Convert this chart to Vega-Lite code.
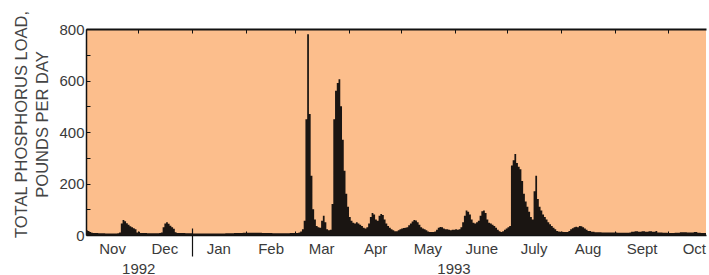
{
  "$schema": "https://vega.github.io/schema/vega-lite/v6.json",
  "width": 620,
  "height": 206,
  "autosize": {"type": "pad"},
  "padding": {"top": 10, "left": 13, "right": 0, "bottom": 0},
  "background": "white",
  "config": {
    "view": {"stroke": null, "fill": "#FCBE8C"},
    "axis": {
      "labelFont": "Liberation Sans",
      "titleFont": "Liberation Sans",
      "labelFontSize": 15,
      "labelColor": "#3a3a3a",
      "domainColor": "#111111",
      "tickColor": "#111111",
      "grid": false,
      "titleFontWeight": "normal"
    }
  },
  "data": {
    "values": [
      {"date": "1992-11-01", "load": 18}, {"date": "1992-11-02", "load": 16}, {"date": "1992-11-03", "load": 12}, {"date": "1992-11-04", "load": 9}, {"date": "1992-11-05", "load": 8}, {"date": "1992-11-08", "load": 7}, {"date": "1992-11-12", "load": 6}, {"date": "1992-11-16", "load": 6}, {"date": "1992-11-19", "load": 7}, {"date": "1992-11-20", "load": 10},
      {"date": "1992-11-21", "load": 45}, {"date": "1992-11-22", "load": 58}, {"date": "1992-11-23", "load": 53}, {"date": "1992-11-24", "load": 46}, {"date": "1992-11-25", "load": 40}, {"date": "1992-11-26", "load": 34}, {"date": "1992-11-27", "load": 30}, {"date": "1992-11-28", "load": 26}, {"date": "1992-11-29", "load": 22}, {"date": "1992-11-30", "load": 10},
      {"date": "1992-12-01", "load": 13}, {"date": "1992-12-02", "load": 8}, {"date": "1992-12-06", "load": 7}, {"date": "1992-12-10", "load": 7}, {"date": "1992-12-13", "load": 8}, {"date": "1992-12-14", "load": 10}, {"date": "1992-12-15", "load": 30}, {"date": "1992-12-16", "load": 45}, {"date": "1992-12-17", "load": 50}, {"date": "1992-12-18", "load": 44}, {"date": "1992-12-19", "load": 36}, {"date": "1992-12-20", "load": 30}, {"date": "1992-12-21", "load": 24}, {"date": "1992-12-22", "load": 11}, {"date": "1992-12-23", "load": 8}, {"date": "1992-12-28", "load": 7},
      {"date": "1993-01-01", "load": 6}, {"date": "1993-01-08", "load": 6}, {"date": "1993-01-15", "load": 6}, {"date": "1993-01-20", "load": 7}, {"date": "1993-01-25", "load": 8}, {"date": "1993-01-30", "load": 9},
      {"date": "1993-02-04", "load": 9}, {"date": "1993-02-10", "load": 8}, {"date": "1993-02-16", "load": 7}, {"date": "1993-02-22", "load": 7}, {"date": "1993-02-26", "load": 8},
      {"date": "1993-03-01", "load": 8}, {"date": "1993-03-03", "load": 10}, {"date": "1993-03-04", "load": 14}, {"date": "1993-03-05", "load": 22}, {"date": "1993-03-06", "load": 55}, {"date": "1993-03-07", "load": 450}, {"date": "1993-03-08", "load": 780}, {"date": "1993-03-09", "load": 470}, {"date": "1993-03-10", "load": 230}, {"date": "1993-03-11", "load": 100}, {"date": "1993-03-12", "load": 60}, {"date": "1993-03-13", "load": 35}, {"date": "1993-03-14", "load": 30}, {"date": "1993-03-15", "load": 28}, {"date": "1993-03-16", "load": 55}, {"date": "1993-03-17", "load": 75}, {"date": "1993-03-18", "load": 50}, {"date": "1993-03-19", "load": 22}, {"date": "1993-03-20", "load": 18}, {"date": "1993-03-21", "load": 20}, {"date": "1993-03-22", "load": 120}, {"date": "1993-03-23", "load": 450}, {"date": "1993-03-24", "load": 560}, {"date": "1993-03-25", "load": 590}, {"date": "1993-03-26", "load": 605}, {"date": "1993-03-27", "load": 500}, {"date": "1993-03-28", "load": 370}, {"date": "1993-03-29", "load": 250}, {"date": "1993-03-30", "load": 160}, {"date": "1993-03-31", "load": 110},
      {"date": "1993-04-01", "load": 70}, {"date": "1993-04-02", "load": 55}, {"date": "1993-04-03", "load": 48}, {"date": "1993-04-04", "load": 45}, {"date": "1993-04-05", "load": 50}, {"date": "1993-04-06", "load": 45}, {"date": "1993-04-07", "load": 40}, {"date": "1993-04-08", "load": 35}, {"date": "1993-04-09", "load": 28}, {"date": "1993-04-10", "load": 25}, {"date": "1993-04-11", "load": 30}, {"date": "1993-04-12", "load": 45}, {"date": "1993-04-13", "load": 70}, {"date": "1993-04-14", "load": 85}, {"date": "1993-04-15", "load": 80}, {"date": "1993-04-16", "load": 60}, {"date": "1993-04-17", "load": 55}, {"date": "1993-04-18", "load": 75}, {"date": "1993-04-19", "load": 82}, {"date": "1993-04-20", "load": 78}, {"date": "1993-04-21", "load": 60}, {"date": "1993-04-22", "load": 45}, {"date": "1993-04-23", "load": 35}, {"date": "1993-04-24", "load": 28}, {"date": "1993-04-25", "load": 22}, {"date": "1993-04-26", "load": 18}, {"date": "1993-04-27", "load": 15}, {"date": "1993-04-28", "load": 15}, {"date": "1993-04-29", "load": 18}, {"date": "1993-04-30", "load": 22},
      {"date": "1993-05-01", "load": 25}, {"date": "1993-05-02", "load": 27}, {"date": "1993-05-03", "load": 28}, {"date": "1993-05-04", "load": 30}, {"date": "1993-05-05", "load": 38}, {"date": "1993-05-06", "load": 45}, {"date": "1993-05-07", "load": 52}, {"date": "1993-05-08", "load": 58}, {"date": "1993-05-09", "load": 56}, {"date": "1993-05-10", "load": 50}, {"date": "1993-05-11", "load": 40}, {"date": "1993-05-12", "load": 30}, {"date": "1993-05-13", "load": 25}, {"date": "1993-05-14", "load": 22}, {"date": "1993-05-15", "load": 18}, {"date": "1993-05-16", "load": 14}, {"date": "1993-05-17", "load": 12}, {"date": "1993-05-19", "load": 12}, {"date": "1993-05-20", "load": 14}, {"date": "1993-05-21", "load": 20}, {"date": "1993-05-22", "load": 28}, {"date": "1993-05-23", "load": 31}, {"date": "1993-05-24", "load": 30}, {"date": "1993-05-25", "load": 25}, {"date": "1993-05-26", "load": 22}, {"date": "1993-05-28", "load": 20}, {"date": "1993-05-29", "load": 18}, {"date": "1993-05-30", "load": 20},
      {"date": "1993-06-01", "load": 22}, {"date": "1993-06-02", "load": 20}, {"date": "1993-06-03", "load": 22}, {"date": "1993-06-04", "load": 30}, {"date": "1993-06-05", "load": 50}, {"date": "1993-06-06", "load": 75}, {"date": "1993-06-07", "load": 95}, {"date": "1993-06-08", "load": 90}, {"date": "1993-06-09", "load": 80}, {"date": "1993-06-10", "load": 60}, {"date": "1993-06-11", "load": 48}, {"date": "1993-06-12", "load": 45}, {"date": "1993-06-13", "load": 50}, {"date": "1993-06-14", "load": 55}, {"date": "1993-06-15", "load": 75}, {"date": "1993-06-16", "load": 92}, {"date": "1993-06-17", "load": 95}, {"date": "1993-06-18", "load": 85}, {"date": "1993-06-19", "load": 60}, {"date": "1993-06-20", "load": 48}, {"date": "1993-06-21", "load": 45}, {"date": "1993-06-22", "load": 40}, {"date": "1993-06-23", "load": 35}, {"date": "1993-06-24", "load": 28}, {"date": "1993-06-25", "load": 20}, {"date": "1993-06-26", "load": 15}, {"date": "1993-06-27", "load": 12}, {"date": "1993-06-28", "load": 15}, {"date": "1993-06-29", "load": 20}, {"date": "1993-06-30", "load": 25},
      {"date": "1993-07-01", "load": 30}, {"date": "1993-07-02", "load": 35}, {"date": "1993-07-03", "load": 270}, {"date": "1993-07-04", "load": 290}, {"date": "1993-07-05", "load": 315}, {"date": "1993-07-06", "load": 280}, {"date": "1993-07-07", "load": 265}, {"date": "1993-07-08", "load": 255}, {"date": "1993-07-09", "load": 210}, {"date": "1993-07-10", "load": 160}, {"date": "1993-07-11", "load": 130}, {"date": "1993-07-12", "load": 110}, {"date": "1993-07-13", "load": 90}, {"date": "1993-07-14", "load": 70}, {"date": "1993-07-15", "load": 60}, {"date": "1993-07-16", "load": 170}, {"date": "1993-07-17", "load": 230}, {"date": "1993-07-18", "load": 140}, {"date": "1993-07-19", "load": 110}, {"date": "1993-07-20", "load": 95}, {"date": "1993-07-21", "load": 80}, {"date": "1993-07-22", "load": 70}, {"date": "1993-07-23", "load": 60}, {"date": "1993-07-24", "load": 50}, {"date": "1993-07-25", "load": 42}, {"date": "1993-07-26", "load": 35}, {"date": "1993-07-27", "load": 28}, {"date": "1993-07-28", "load": 22}, {"date": "1993-07-29", "load": 16}, {"date": "1993-07-30", "load": 14}, {"date": "1993-07-31", "load": 13},
      {"date": "1993-08-02", "load": 12}, {"date": "1993-08-04", "load": 12}, {"date": "1993-08-05", "load": 16}, {"date": "1993-08-06", "load": 22}, {"date": "1993-08-07", "load": 26}, {"date": "1993-08-08", "load": 30}, {"date": "1993-08-09", "load": 32}, {"date": "1993-08-10", "load": 30}, {"date": "1993-08-11", "load": 35}, {"date": "1993-08-12", "load": 34}, {"date": "1993-08-13", "load": 30}, {"date": "1993-08-14", "load": 25}, {"date": "1993-08-15", "load": 20}, {"date": "1993-08-16", "load": 16}, {"date": "1993-08-18", "load": 13}, {"date": "1993-08-20", "load": 11}, {"date": "1993-08-24", "load": 10}, {"date": "1993-08-29", "load": 10},
      {"date": "1993-09-02", "load": 9}, {"date": "1993-09-06", "load": 9}, {"date": "1993-09-09", "load": 10}, {"date": "1993-09-10", "load": 13}, {"date": "1993-09-12", "load": 15}, {"date": "1993-09-14", "load": 13}, {"date": "1993-09-16", "load": 15}, {"date": "1993-09-18", "load": 13}, {"date": "1993-09-20", "load": 15}, {"date": "1993-09-22", "load": 13}, {"date": "1993-09-24", "load": 16}, {"date": "1993-09-25", "load": 10}, {"date": "1993-09-28", "load": 9},
      {"date": "1993-10-01", "load": 8}, {"date": "1993-10-05", "load": 9}, {"date": "1993-10-08", "load": 11}, {"date": "1993-10-12", "load": 10}, {"date": "1993-10-16", "load": 12}, {"date": "1993-10-18", "load": 9}, {"date": "1993-10-20", "load": 8}, {"date": "1993-10-23", "load": 8}
    ]
  },
  "layer": [
    {
      "mark": {"type": "area", "interpolate": "step-after", "color": "#1a1512", "clip": true},
      "encoding": {
        "x": {
          "field": "date", "type": "temporal",
          "scale": {"type": "utc", "domain": [{"year": 1992, "month": 11, "date": 1, "utc": true}, {"year": 1993, "month": 10, "date": 23, "utc": true}]},
          "axis": {
            "values": [
              {"year": 1992, "month": 11, "date": 16, "utc": true}, {"year": 1992, "month": 12, "date": 16, "utc": true},
              {"year": 1993, "month": 1, "date": 16, "utc": true}, {"year": 1993, "month": 2, "date": 15, "utc": true},
              {"year": 1993, "month": 3, "date": 16, "utc": true}, {"year": 1993, "month": 4, "date": 16, "utc": true},
              {"year": 1993, "month": 5, "date": 16, "utc": true}, {"year": 1993, "month": 6, "date": 16, "utc": true},
              {"year": 1993, "month": 7, "date": 16, "utc": true}, {"year": 1993, "month": 8, "date": 16, "utc": true},
              {"year": 1993, "month": 9, "date": 16, "utc": true}, {"year": 1993, "month": 10, "date": 16, "utc": true}
            ],
            "labelExpr": "['Jan','Feb','Mar','Apr','May','June','July','Aug','Sept','Oct','Nov','Dec'][utcmonth(datum.value)]",
            "tickSize": 0, "labelPadding": 6, "domainWidth": 1.5, "title": null,
            "labelFlush": false, "labelOverlap": false
          }
        },
        "y": {
          "field": "load", "type": "quantitative",
          "scale": {"domain": [0, 800]},
          "axis": {
            "values": [0, 100, 200, 300, 400, 500, 600, 700, 800],
            "labelExpr": "datum.value % 200 === 0 ? datum.label : ''",
            "tickSize": -4, "labelPadding": 6, "domainWidth": 1.5,
            "title": ["TOTAL PHOSPHORUS LOAD,", "POUNDS PER DAY"],
            "titleFontSize": 16.5, "titleColor": "#444444", "titlePadding": 8, "titleLineHeight": 21, "titleY": 95,
            "labelFlush": false, "format": "d"
          }
        }
      }
    },
    {
      "mark": {"type": "point", "opacity": 0},
      "encoding": {
        "x": {
          "field": "date", "type": "temporal", "scale": {"type": "utc"},
          "axis": {
            "orient": "bottom",
            "values": [
              {"year": 1992, "month": 12, "date": 1, "utc": true}, {"year": 1993, "month": 2, "date": 1, "utc": true},
              {"year": 1993, "month": 3, "date": 1, "utc": true}, {"year": 1993, "month": 4, "date": 1, "utc": true},
              {"year": 1993, "month": 5, "date": 1, "utc": true}, {"year": 1993, "month": 6, "date": 1, "utc": true},
              {"year": 1993, "month": 7, "date": 1, "utc": true}, {"year": 1993, "month": 8, "date": 1, "utc": true},
              {"year": 1993, "month": 9, "date": 1, "utc": true}, {"year": 1993, "month": 10, "date": 1, "utc": true}
            ],
            "tickSize": -4, "labels": false, "domain": false, "title": null
          }
        }
      }
    },
    {
      "mark": {"type": "point", "opacity": 0},
      "encoding": {
        "x": {
          "field": "date", "type": "temporal", "scale": {"type": "utc"},
          "axis": {
            "orient": "top",
            "values": [
              {"year": 1992, "month": 12, "date": 1, "utc": true}, {"year": 1993, "month": 1, "date": 1, "utc": true}, {"year": 1993, "month": 2, "date": 1, "utc": true},
              {"year": 1993, "month": 3, "date": 1, "utc": true}, {"year": 1993, "month": 4, "date": 1, "utc": true},
              {"year": 1993, "month": 5, "date": 1, "utc": true}, {"year": 1993, "month": 6, "date": 1, "utc": true},
              {"year": 1993, "month": 7, "date": 1, "utc": true}, {"year": 1993, "month": 8, "date": 1, "utc": true},
              {"year": 1993, "month": 9, "date": 1, "utc": true}, {"year": 1993, "month": 10, "date": 1, "utc": true}
            ],
            "tickSize": -4, "labels": false, "domain": true, "domainWidth": 2, "title": null
          }
        }
      }
    },
    {
      "mark": {"type": "point", "opacity": 0},
      "encoding": {
        "x": {
          "field": "date", "type": "temporal", "scale": {"type": "utc"},
          "axis": {
            "orient": "bottom",
            "values": [{"year": 1993, "month": 1, "date": 1, "utc": true}],
            "tickSize": 28, "offset": -7, "tickWidth": 1.2, "labels": false, "domain": false, "title": null
          }
        }
      }
    },
    {
      "mark": {"type": "point", "opacity": 0},
      "encoding": {
        "x": {
          "field": "date", "type": "temporal", "scale": {"type": "utc"},
          "axis": {
            "orient": "bottom",
            "values": [{"year": 1992, "month": 12, "date": 1, "utc": true}, {"year": 1993, "month": 5, "date": 31, "utc": true}],
            "labelExpr": "utcFormat(datum.value, '%Y')",
            "tickSize": 0, "labelPadding": 26, "domain": false, "title": null, "labelFlush": false, "labelOverlap": false
          }
        }
      }
    }
  ],
  "resolve": {"axis": {"x": "independent"}}
}
